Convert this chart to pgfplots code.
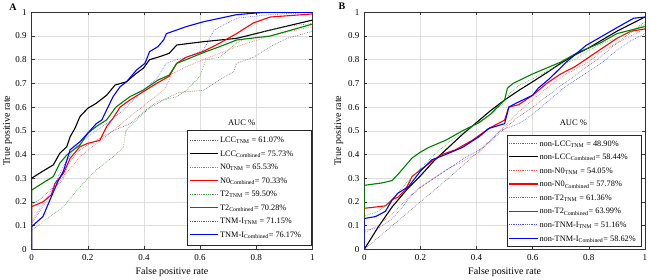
\documentclass[border=0pt]{standalone}
\usepackage{fontspec}
\setmainfont{Liberation Serif}
\usepackage{pgfplots}
\pgfplotsset{compat=1.18}

\definecolor{mgreen}{rgb}{0,0.5,0}
\definecolor{mred}{rgb}{1,0,0}
\definecolor{mblue}{rgb}{0,0,1}
\colorlet{dblack}{black!60}
\colorlet{dred}{mred!70}
\colorlet{dgreen}{mgreen!75}
\colorlet{dblue}{mblue!70}

\tikzset{
  dott/.style={line width=0.55pt, dash pattern=on 0.7pt off 1.1pt},
  sol/.style={line width=1.1pt},
}
\newcommand{\legfont}{\fontsize{8.3}{10}\selectfont}
% legend row: x-start, x-end of sample line, y of row, line style, text
\newcommand{\legrow}[5]{%
  \draw[#4] (#1pt,#3pt) -- (#2pt,#3pt);
  \node[anchor=base west, inner sep=0pt, font=\legfont, text=black] at (#2pt+1.6pt,#3pt-2.8pt) {#5};}

\pgfplotsset{
  rocaxis/.style={
    scale only axis, width=280.6pt, height=237pt,
    xmin=0, xmax=1, ymin=0, ymax=1,
    xtick={0,0.2,0.4,0.6,0.8,1},
    ytick={0,0.1,0.2,0.3,0.4,0.5,0.6,0.7,0.8,0.9,1},
    grid=major, major grid style={black!13, line width=0.5pt},
    axis line style={black!80, line width=0.6pt},
    tick align=inside, major tick length=3pt,
    tick style={black!80, line width=0.5pt},
    /pgf/number format/assume math mode=true,
    ticklabel style={font=\fontsize{9}{10}\selectfont},
    xticklabel style={yshift=-2pt},
    yticklabel style={xshift=-1.5pt},
    xlabel={False positive rate}, ylabel={True positive rate},
    every axis x label/.style={at={(axis description cs:0.5,0)}, anchor=center, yshift=-22.4pt, font=\fontsize{10}{12}\selectfont},
    every axis y label/.style={at={(axis description cs:0,0.5)}, anchor=center, rotate=90, font=\fontsize{10}{12}\selectfont},
  },
}

\begin{document}
\begin{tikzpicture}
\path[use as bounding box] (0,0) rectangle (650pt,280pt);

% ---------------- Panel A ----------------
\begin{axis}[rocaxis, at={(31.7pt,30.7pt)}, anchor=south west,
  every axis y label/.append style={yshift=24pt}]
\addplot[dott, draw=dblack] coordinates {(0,0) (0,0.19) (0.03,0.21) (0.065,0.25) (0.11,0.29) (0.13,0.36) (0.15,0.39) (0.172,0.42) (0.2,0.44) (0.23,0.46) (0.29,0.50) (0.35,0.53) (0.41,0.59) (0.47,0.63) (0.52,0.66) (0.55,0.665) (0.61,0.67) (0.67,0.715) (0.72,0.75) (0.73,0.785) (0.79,0.81) (0.85,0.855) (0.91,0.89) (1,0.92)};
\addplot[sol, draw=black] coordinates {(0,0) (0,0.30) (0.04,0.33) (0.077,0.356) (0.10,0.405) (0.125,0.433) (0.137,0.475) (0.154,0.51) (0.172,0.56) (0.2,0.595) (0.23,0.616) (0.267,0.65) (0.297,0.693) (0.338,0.707) (0.37,0.74) (0.398,0.764) (0.42,0.80) (0.457,0.813) (0.49,0.827) (0.517,0.862) (0.55,0.867) (0.612,0.876) (0.73,0.89) (0.85,0.925) (1,0.967)};
\addplot[dott, draw=dred] coordinates {(0,0) (0,0.11) (0.065,0.22) (0.113,0.307) (0.172,0.39) (0.23,0.447) (0.29,0.50) (0.35,0.56) (0.41,0.616) (0.47,0.672) (0.48,0.69) (0.5,0.74) (0.55,0.77) (0.612,0.80) (0.73,0.855) (0.85,0.90) (1,0.94)};
\addplot[sol, draw=mred] coordinates {(0,0) (0,0.18) (0.04,0.20) (0.07,0.23) (0.083,0.278) (0.113,0.32) (0.137,0.384) (0.172,0.433) (0.2,0.447) (0.243,0.46) (0.267,0.518) (0.29,0.553) (0.315,0.60) (0.35,0.63) (0.398,0.665) (0.445,0.70) (0.49,0.73) (0.517,0.785) (0.55,0.81) (0.612,0.835) (0.67,0.87) (0.73,0.91) (0.79,0.955) (0.85,0.98) (1,0.993)};
\addplot[dott, draw=dgreen] coordinates {(0,0) (0,0.08) (0.065,0.138) (0.113,0.18) (0.172,0.264) (0.23,0.335) (0.29,0.39) (0.327,0.43) (0.335,0.50) (0.35,0.518) (0.398,0.574) (0.445,0.623) (0.517,0.644) (0.55,0.67) (0.6,0.73) (0.62,0.80) (0.67,0.81) (0.73,0.87) (0.79,0.91) (0.91,0.94) (1,0.953)};
\addplot[sol, draw=mgreen] coordinates {(0,0) (0,0.25) (0.04,0.28) (0.077,0.307) (0.10,0.363) (0.125,0.398) (0.172,0.44) (0.2,0.49) (0.23,0.518) (0.267,0.546) (0.30,0.60) (0.35,0.644) (0.398,0.672) (0.45,0.714) (0.49,0.735) (0.517,0.785) (0.55,0.80) (0.612,0.83) (0.67,0.855) (0.73,0.883) (0.85,0.90) (1,0.95)};
\addplot[dott, draw=dblue] coordinates {(0,0) (0,0.12) (0.065,0.236) (0.113,0.35) (0.148,0.42) (0.2,0.475) (0.267,0.53) (0.327,0.588) (0.398,0.672) (0.445,0.72) (0.48,0.785) (0.517,0.80) (0.55,0.81) (0.612,0.84) (0.65,0.925) (0.73,0.975) (0.85,0.99) (1,1)};
\addplot[sol, draw=mblue] coordinates {(0,0) (0,0.096) (0.04,0.138) (0.065,0.208) (0.09,0.278) (0.113,0.33) (0.137,0.42) (0.172,0.454) (0.2,0.49) (0.23,0.53) (0.25,0.546) (0.267,0.588) (0.29,0.644) (0.315,0.686) (0.338,0.707) (0.374,0.757) (0.404,0.785) (0.42,0.834) (0.45,0.855) (0.47,0.883) (0.48,0.91) (0.552,0.94) (0.612,0.96) (0.73,0.99) (0.83,1) (1,1)};
\node[font=\fontsize{8.5}{10}\selectfont] at (axis description cs:0.748,0.536) {AUC \%};
\end{axis}

% legend A
\draw[black!85, line width=0.6pt, fill=white] (187.7pt,34.5pt) rectangle (311.7pt,150pt);
\legrow{190}{218.3}{140}{dott, draw=dblack}{LCC\textsubscript{TNM} = 61.07\%}
\legrow{190}{218.3}{126.53}{sol, draw=black}{LCC\textsubscript{Combined}= 75.73\%}
\legrow{190}{218.3}{113.06}{dott, draw=dred}{N0\textsubscript{TNM} = 65.53\%}
\legrow{190}{218.3}{99.59}{sol, draw=mred}{N0\textsubscript{Combined}= 70.33\%}
\legrow{190}{218.3}{86.12}{dott, draw=dgreen}{T2\textsubscript{TNM} = 59.50\%}
\legrow{190}{218.3}{72.65}{sol, draw=mgreen}{T2\textsubscript{Combined}= 70.28\%}
\legrow{190}{218.3}{59.18}{dott, draw=dblue}{TNM-I\textsubscript{TNM} = 71.15\%}
\legrow{190}{218.3}{45.71}{sol, draw=mblue}{TNM-I\textsubscript{Combined}= 76.17\%}

% ---------------- Panel B ----------------
\begin{axis}[rocaxis, at={(364.3pt,30.7pt)}, anchor=south west,
  every axis y label/.append style={yshift=25.5pt}]
\addplot[dott, draw=dblack] coordinates {(0,0) (0.1,0.1) (0.2,0.2) (0.3,0.3) (0.4,0.405) (0.54,0.55) (0.6,0.6) (0.7,0.69) (0.84,0.81) (0.9,0.87) (1,0.96)};
\addplot[sol, draw=black] coordinates {(0,0) (0.05,0.095) (0.1,0.18) (0.15,0.25) (0.2,0.31) (0.25,0.375) (0.3,0.43) (0.35,0.485) (0.4,0.535) (0.45,0.585) (0.5,0.63) (0.55,0.67) (0.6,0.707) (0.65,0.745) (0.7,0.785) (0.75,0.82) (0.8,0.85) (0.85,0.885) (0.9,0.92) (0.95,0.95) (1,0.98)};
\addplot[dott, draw=dred] coordinates {(0,0) (0,0.07) (0.05,0.10) (0.1,0.15) (0.15,0.21) (0.2,0.265) (0.29,0.335) (0.35,0.37) (0.41,0.41) (0.45,0.46) (0.5,0.52) (0.55,0.58) (0.6,0.63) (0.66,0.69) (0.72,0.74) (0.8,0.79) (0.84,0.83) (0.9,0.87) (1,0.93)};
\addplot[sol, draw=mred] coordinates {(0,0) (0,0.173) (0.075,0.183) (0.1,0.21) (0.12,0.22) (0.146,0.25) (0.17,0.307) (0.2,0.335) (0.24,0.37) (0.277,0.40) (0.325,0.42) (0.385,0.46) (0.444,0.51) (0.5,0.545) (0.515,0.60) (0.55,0.61) (0.6,0.65) (0.65,0.70) (0.7,0.74) (0.75,0.77) (0.8,0.81) (0.85,0.85) (0.9,0.89) (0.95,0.92) (1,0.93)};
\addplot[dott, draw=dgreen] coordinates {(0,0) (0,0.14) (0.05,0.16) (0.1,0.21) (0.15,0.28) (0.2,0.34) (0.25,0.40) (0.3,0.45) (0.35,0.49) (0.4,0.53) (0.45,0.57) (0.5,0.62) (0.52,0.66) (0.55,0.69) (0.6,0.72) (0.65,0.75) (0.7,0.78) (0.75,0.80) (0.8,0.84) (0.85,0.87) (0.9,0.89) (0.95,0.92) (1,0.95)};
\addplot[sol, draw=mgreen] coordinates {(0,0) (0,0.27) (0.063,0.28) (0.099,0.29) (0.123,0.32) (0.17,0.385) (0.2,0.41) (0.23,0.43) (0.29,0.46) (0.35,0.50) (0.41,0.535) (0.45,0.57) (0.50,0.63) (0.51,0.68) (0.53,0.70) (0.6,0.74) (0.7,0.79) (0.76,0.83) (0.84,0.87) (0.9,0.91) (1,0.94)};
\addplot[dott, draw=dblue] coordinates {(0,0) (0,0.08) (0.05,0.09) (0.1,0.13) (0.13,0.17) (0.17,0.23) (0.2,0.26) (0.25,0.30) (0.3,0.34) (0.35,0.38) (0.41,0.42) (0.45,0.46) (0.483,0.50) (0.55,0.53) (0.6,0.57) (0.65,0.62) (0.72,0.69) (0.8,0.75) (0.85,0.79) (0.9,0.84) (0.95,0.88) (1,0.91)};
\addplot[sol, draw=mblue] coordinates {(0,0) (0,0.13) (0.04,0.138) (0.075,0.16) (0.1,0.21) (0.12,0.237) (0.158,0.265) (0.2,0.33) (0.24,0.377) (0.29,0.40) (0.35,0.43) (0.41,0.476) (0.444,0.51) (0.5,0.53) (0.515,0.60) (0.54,0.616) (0.6,0.65) (0.62,0.68) (0.66,0.72) (0.72,0.79) (0.79,0.86) (0.9,0.935) (0.96,0.975) (1,0.98)};
\node[font=\fontsize{8.5}{10}\selectfont] at (axis description cs:0.745,0.536) {AUC \%};
\end{axis}

% legend B
\draw[black!85, line width=0.6pt, fill=white] (507.7pt,34pt) rectangle (641pt,145pt);
\legrow{509}{537.7}{136.7}{dott, draw=dblack}{non-LCC\textsubscript{TNM} = 48.90\%}
\legrow{509}{537.7}{123.13}{sol, draw=black}{non-LCC\textsubscript{Combined}= 58.44\%}
\legrow{509}{537.7}{109.56}{dott, draw=dred}{non-N0\textsubscript{TNM} = 54.05\%}
\legrow{509}{537.7}{95.99}{sol, draw=mred}{non-N0\textsubscript{Combined}= 57.78\%}
\legrow{509}{537.7}{82.42}{dott, draw=dgreen}{non-T2\textsubscript{TNM} = 61.36\%}
\legrow{509}{537.7}{68.85}{sol, draw=mgreen}{non-T2\textsubscript{Combined}= 63.99\%}
\legrow{509}{537.7}{55.28}{dott, draw=dblue}{non-TNM-I\textsubscript{TNM} = 51.16\%}
\legrow{509}{537.7}{41.71}{sol, draw=mblue}{non-TNM-I\textsubscript{Combined}= 58.62\%}

\node[font=\bfseries\fontsize{10}{12}\selectfont] at (13pt,273pt) {A};
\node[font=\bfseries\fontsize{10}{12}\selectfont] at (342pt,273.5pt) {B};
\end{tikzpicture}
\end{document}
